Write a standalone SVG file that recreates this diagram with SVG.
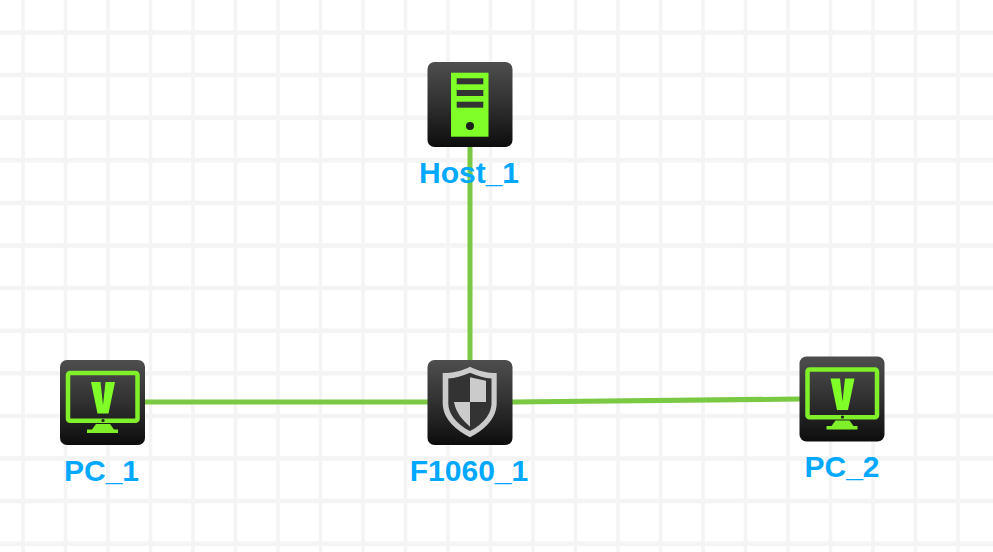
<svg xmlns="http://www.w3.org/2000/svg" width="993" height="552" viewBox="0 0 993 552">
<defs>
<style>
.gv{stroke:#f4f4f4;stroke-width:3.5}
.gh{stroke:#f4f4f4;stroke-width:4.5}
.link{stroke:#7ac943;stroke-width:5;fill:none}
.lbl{font-family:"Liberation Sans",Arial,sans-serif;font-weight:700;font-size:30px;fill:#00a8ff;text-anchor:middle}
.g{fill:#7fff27}
.d{fill:#333}
.s{fill:#cbcbcb}
</style>
<linearGradient id="bg" x1="0" y1="0" x2="0" y2="1"><stop offset="0" stop-color="#4e4e4e"/><stop offset="0.5" stop-color="#303030"/><stop offset="1" stop-color="#0d0d0d"/></linearGradient>
<rect id="tile" width="85" height="85" rx="7" fill="url(#bg)"/>
<g id="pc">
<use href="#tile"/>
<rect x="8" y="13" width="69.500" height="47.700" rx="2" fill="none" stroke="#7ff02a" stroke-width="4.500"/>
<path class="g" d="M31 22H40.500L43 45L45.500 22H55L48.500 53.500H37.500Z"/>
<circle cx="43" cy="60.500" r="1.600" fill="#222"/>
<path d="M36 64H50L54 69.500H58V73H27V69.500H32Z" fill="#7ff02a"/>
</g>
</defs>
<g id="grid">
<path class="gv" d="M23 0V552M65.500 0V552M108 0V552M150.500 0V552M193 0V552M235.500 0V552M278 0V552M320.500 0V552M363 0V552M405.500 0V552M448 0V552M490.500 0V552M533 0V552M575.500 0V552M618 0V552M660.500 0V552M703 0V552M745.500 0V552M788 0V552M830.500 0V552M873 0V552M915.500 0V552M958 0V552"/>
<path class="gh" d="M0 32.500H993M0 75.100H993M0 117.700H993M0 160.300H993M0 202.900H993M0 245.500H993M0 288.100H993M0 330.700H993M0 373.300H993M0 415.900H993M0 458.500H993M0 501.100H993M0 543.700H993"/>
</g>
<g id="connectors">
<path class="link" d="M470 147V360"/>
<path class="link" d="M145 402H428"/>
<path class="link" d="M512 402L800 399"/>
</g>
<g id="Host_1">
<use href="#tile" x="427.500" y="62"/>
<rect class="g" x="451" y="72.700" width="37.500" height="64"/>
<rect class="d" x="456.700" y="78.300" width="26.600" height="6"/>
<rect class="d" x="456.700" y="90" width="26.600" height="6"/>
<rect class="d" x="456.700" y="101.700" width="26.600" height="6"/>
<circle cx="470" cy="126" r="4" fill="#1c1c1c"/>
<text class="lbl" x="469" y="183">Host_1</text>
</g>
<g id="F1060_1">
<use href="#tile" x="427.500" y="360"/>
<path class="s" d="M470 366.700C478 371 488 373 496.700 373V403C496.700 420 482 431 470 437.300C458 431 442.700 420 442.700 403V373C452 373 462 371 470 366.700Z"/>
<path d="M470 372.700C478 376 485 378 491.500 378.500V403C491.500 416 480 426 470 431C460 426 448.300 416 448.300 403V378.500C455 378 462 376 470 372.700Z" fill="#333"/>
<path class="s" d="M470 377.300L486 380.700V402H470ZM470 402H454C456 413 463 420.500 470 426.700Z"/>
<text class="lbl" x="469" y="481">F1060_1</text>
</g>
<g id="PC_1">
<use href="#pc" x="60" y="360"/>
<text class="lbl" x="101.500" y="481">PC_1</text>
</g>
<g id="PC_2">
<use href="#pc" x="799.500" y="356.500"/>
<text class="lbl" x="842" y="477">PC_2</text>
</g>
</svg>
